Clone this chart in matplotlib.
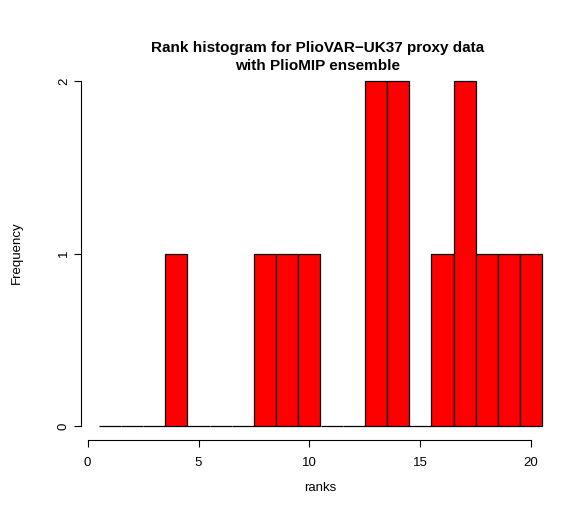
import matplotlib
matplotlib.use("Agg")
import matplotlib.pyplot as plt

plt.rcParams['font.family'] = ['Liberation Sans', 'DejaVu Sans']

# rank histogram data (bins centred on each rank)
ranks = list(range(1, 21))
counts = [0, 0, 0, 1, 0, 0, 0, 1, 1, 1, 0, 0, 2, 2, 0, 1, 2, 1, 1, 1]
xticks = [0, 5, 10, 15, 20]
yticks = [0, 1, 2]

fig = plt.figure(figsize=(5.77, 5.13), dpi=100)
ax = fig.add_axes([81/577, 73/513, (560-81)/577, (440-67)/513])

ax.bar(ranks, counts, width=1, color="red", edgecolor="black", linewidth=0.9)

ax.set_xlim(-0.3, 21.3)
ax.set_ylim(-0.08, 2.08)

# R style axes
for s in ["top", "right"]:
    ax.spines[s].set_visible(False)
ax.spines["left"].set_bounds(0, 2)
ax.spines["bottom"].set_bounds(0, 20)
ax.spines["left"].set_linewidth(0.8)
ax.spines["bottom"].set_linewidth(0.8)

ax.set_xticks(xticks)
ax.set_yticks(yticks)
ax.tick_params(axis="both", direction="out", length=5, width=0.8, labelsize=9.5)
ax.tick_params(axis="x", pad=7)
ax.tick_params(axis="y", pad=3)
for lab in ax.get_yticklabels():
    lab.set_rotation(90)
    lab.set_va("center")

fig.text(17/577, 1 - 253/513, "Frequency", rotation=90, ha="center", va="center", fontsize=9.5)
fig.text(320/577, 1 - 488/513, "ranks", ha="center", va="center", fontsize=9.5)
fig.text(318/577, 1 - 57/513,
         "Rank histogram for PlioVAR\u2212UK37 proxy data\nwith PlioMIP ensemble",
         ha="center", va="center", fontsize=11, fontweight="bold", linespacing=1.3)

fig.savefig("out.png", dpi=100)
